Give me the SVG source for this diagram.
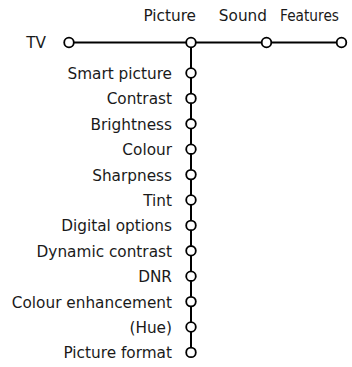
<svg xmlns="http://www.w3.org/2000/svg" width="352" height="367" viewBox="0 0 352 367">
<style>
.t{font-family:"DejaVu Sans","Liberation Sans",sans-serif;font-size:15.3px;fill:#1a1a1a;text-anchor:end}
.n{fill:#fff;stroke:#000;stroke-width:1.8}
.c{stroke:#000;stroke-width:2;fill:none}
</style>
<rect width="352" height="367" fill="#fff"/>
<g id="connectors">
<line class="c" x1="69" y1="42.5" x2="341.5" y2="42.5"/>
<line class="c" x1="191" y1="42.5" x2="191" y2="352"/>
</g>
<g id="tv"><text class="t" x="46" y="48">TV</text><circle class="n" cx="69" cy="42.5" r="4.8"/></g>
<g id="picture"><text class="t" x="196" y="21">Picture</text><circle class="n" cx="191" cy="42.5" r="4.8"/></g>
<g id="sound"><text class="t" x="267" y="21">Sound</text><circle class="n" cx="266.5" cy="42.5" r="4.8"/></g>
<g id="features"><text class="t" x="339" y="21" textLength="59" lengthAdjust="spacingAndGlyphs">Features</text><circle class="n" cx="341.5" cy="42.5" r="4.8"/></g>
<g id="smart-picture"><text class="t" x="172" y="79">Smart picture</text><circle class="n" cx="191" cy="73" r="4.8"/></g>
<g id="contrast"><text class="t" x="172" y="104.4">Contrast</text><circle class="n" cx="191" cy="98.4" r="4.8"/></g>
<g id="brightness"><text class="t" x="172" y="129.8">Brightness</text><circle class="n" cx="191" cy="123.8" r="4.8"/></g>
<g id="colour"><text class="t" x="172" y="155.2">Colour</text><circle class="n" cx="191" cy="149.2" r="4.8"/></g>
<g id="sharpness"><text class="t" x="172" y="180.6">Sharpness</text><circle class="n" cx="191" cy="174.6" r="4.8"/></g>
<g id="tint"><text class="t" x="172" y="206">Tint</text><circle class="n" cx="191" cy="200" r="4.8"/></g>
<g id="digital-options"><text class="t" x="172" y="231.4">Digital options</text><circle class="n" cx="191" cy="225.4" r="4.8"/></g>
<g id="dynamic-contrast"><text class="t" x="172" y="256.8">Dynamic contrast</text><circle class="n" cx="191" cy="250.8" r="4.8"/></g>
<g id="dnr"><text class="t" x="172" y="282.2">DNR</text><circle class="n" cx="191" cy="276.2" r="4.8"/></g>
<g id="colour-enhancement"><text class="t" x="172" y="307.6">Colour enhancement</text><circle class="n" cx="191" cy="301.6" r="4.8"/></g>
<g id="hue"><text class="t" x="172" y="333">(Hue)</text><circle class="n" cx="191" cy="327" r="4.8"/></g>
<g id="picture-format"><text class="t" x="172" y="358.4">Picture format</text><circle class="n" cx="191" cy="352.4" r="4.8"/></g>
</svg>
